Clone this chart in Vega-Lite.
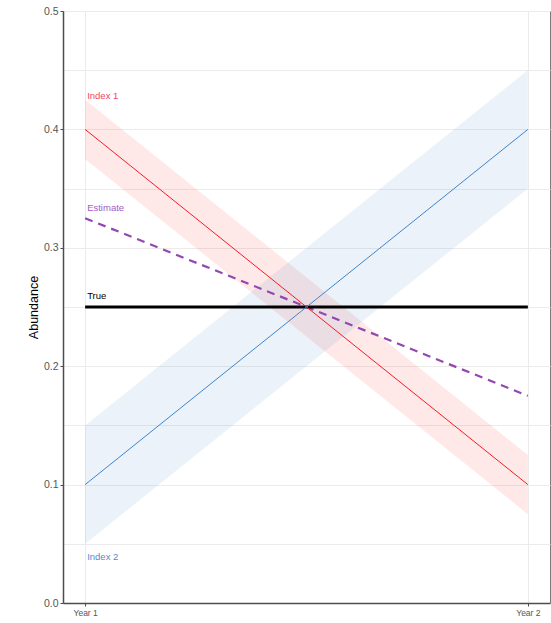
{
  "$schema": "https://vega.github.io/schema/vega-lite/v6.json",
  "width": 487,
  "height": 592,
  "autosize": "none",
  "padding": {"left": 63, "top": 11, "right": 1, "bottom": 20},
  "background": "#ffffff",
  "config": {
    "font": "Liberation Sans",
    "view": {"stroke": "#7a7a7a", "strokeWidth": 1},
    "axis": {"gridColor": "#ebebeb", "gridWidth": 1, "domainColor": "#4d4d4d", "domainWidth": 1.5, "tickColor": "#4d4d4d", "labelColor": "#555555", "labelFont": "Liberation Sans", "titleFont": "Liberation Sans"}
  },
  "resolve": {"scale": {"color": "independent"}},
  "datasets": {
    "bands": [
      {"series": "Index 1", "year": 1, "lo": 0.375, "hi": 0.425},
      {"series": "Index 1", "year": 2, "lo": 0.075, "hi": 0.125},
      {"series": "Index 2", "year": 1, "lo": 0.05, "hi": 0.15},
      {"series": "Index 2", "year": 2, "lo": 0.35, "hi": 0.45}
    ],
    "lines": [
      {"series": "Index 1", "year": 1, "value": 0.4},
      {"series": "Index 1", "year": 2, "value": 0.1},
      {"series": "Index 2", "year": 1, "value": 0.1},
      {"series": "Index 2", "year": 2, "value": 0.4}
    ],
    "estimate": [
      {"series": "Estimate", "year": 1, "value": 0.325},
      {"series": "Estimate", "year": 2, "value": 0.175}
    ],
    "truth": [
      {"series": "True", "year": 1, "value": 0.25},
      {"series": "True", "year": 2, "value": 0.25}
    ],
    "labels": [
      {"label": "Index 1", "year": 1, "value": 0.428},
      {"label": "Estimate", "year": 1, "value": 0.334},
      {"label": "True", "year": 1, "value": 0.259},
      {"label": "Index 2", "year": 1, "value": 0.039}
    ]
  },
  "layer": [
    {
      "data": {"name": "bands"},
      "mark": {"type": "area", "opacity": 0.1},
      "encoding": {
        "x": {"field": "year", "type": "quantitative", "scale": {"domain": [0.95, 2.05], "nice": false, "zero": false},
          "axis": {"values": [1, 2], "labelExpr": "datum.value == 1 ? 'Year 1' : 'Year 2'", "labelFontSize": 8.5, "tickSize": 3, "labelPadding": 2, "title": null, "gridColor": "#ebebeb"}},
        "y": {"field": "hi", "type": "quantitative", "scale": {"domain": [0, 0.5], "nice": false},
          "axis": {"values": [0, 0.05, 0.1, 0.15, 0.2, 0.25, 0.3, 0.35, 0.4, 0.45, 0.5], "labelExpr": "abs(datum.value*10 - round(datum.value*10)) < 0.001 ? format(datum.value, '.1f') : ''", "tickOpacity": {"condition": {"test": "abs(datum.value*10 - round(datum.value*10)) < 0.001", "value": 1}, "value": 0}, "tickSize": 3, "labelFontSize": 10.5, "labelPadding": 2, "title": "Abundance", "titleFontSize": 12.5, "titleFontWeight": "normal", "titleColor": "#000000", "titlePadding": 3}},
        "y2": {"field": "lo"},
        "color": {"field": "series", "type": "nominal", "scale": {"domain": ["Index 1", "Index 2"], "range": ["#ff2020", "#3f7fc0"]}, "legend": null}
      }
    },
    {
      "data": {"name": "estimate"},
      "mark": {"type": "line", "strokeWidth": 2.2, "strokeDash": [8, 6], "color": "#9347b0"},
      "encoding": {
        "x": {"field": "year", "type": "quantitative"},
        "y": {"field": "value", "type": "quantitative"}
      }
    },
    {
      "data": {"name": "truth"},
      "mark": {"type": "line", "strokeWidth": 3, "color": "#000000"},
      "encoding": {
        "x": {"field": "year", "type": "quantitative"},
        "y": {"field": "value", "type": "quantitative"}
      }
    },
    {
      "data": {"name": "lines"},
      "mark": {"type": "line", "strokeWidth": 1},
      "encoding": {
        "x": {"field": "year", "type": "quantitative"},
        "y": {"field": "value", "type": "quantitative"},
        "color": {"field": "series", "type": "nominal", "scale": {"domain": ["Index 1", "Index 2"], "range": ["#f21e24", "#3f85cc"]}, "legend": null},
        "detail": {"field": "series"}
      }
    },
    {
      "data": {"name": "labels"},
      "mark": {"type": "text", "align": "left", "baseline": "middle", "fontSize": 9.5, "dx": 2},
      "encoding": {
        "x": {"field": "year", "type": "quantitative"},
        "y": {"field": "value", "type": "quantitative"},
        "text": {"field": "label"},
        "color": {"field": "label", "type": "nominal", "scale": {"domain": ["Index 1", "Estimate", "True", "Index 2"], "range": ["#f2475f", "#a35cc2", "#000000", "#4f8ad0"]}, "legend": null}
      }
    }
  ]
}
